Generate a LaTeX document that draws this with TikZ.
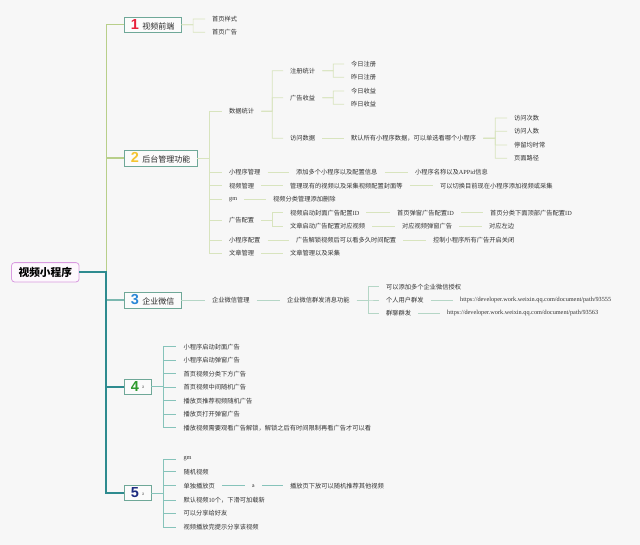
\documentclass[tikz,border=0pt]{standalone}
\usepackage{fontspec}
\setmainfont{Noto Sans CJK SC}
\newfontfamily\numfont{Liberation Sans}
\newfontfamily\latfont{Liberation Serif}
\usetikzlibrary{calc}

\definecolor{bgcol}{HTML}{F7F7F7}
\definecolor{leaftext}{HTML}{333333}
\definecolor{topictext}{HTML}{2A2A2A}
\definecolor{boxline}{HTML}{6FA898}
\definecolor{boxfill}{HTML}{FBFBFB}
\definecolor{rootline}{HTML}{D99BE0}
\definecolor{rootfill}{HTML}{FDF8FD}
\definecolor{upgreen}{HTML}{B8CF8A}
\definecolor{upsubcol}{HTML}{D8E4BE}
\definecolor{trunkteal}{HTML}{2E8B8F}
\definecolor{wxcol}{HTML}{7CB8B0}
\definecolor{wxsubcol}{HTML}{B5D6C6}
\definecolor{lowsubcol}{HTML}{86C3BA}
\definecolor{subgray}{HTML}{777777}
\definecolor{numred}{HTML}{E8203A}
\definecolor{numyellow}{HTML}{F4C430}
\definecolor{numblue}{HTML}{2A86D6}
\definecolor{numgreen}{HTML}{2E9A2E}
\definecolor{numnavy}{HTML}{1B2A80}

\newcommand{\lat}[1]{{\latfont #1}}
\newcommand{\tnum}[2]{{\numfont\bfseries\fontsize{14.5}{14.5}\selectfont\color{#1}#2}}
\newcommand{\tmark}{\raisebox{2.5pt}{\fontsize{4.5}{5}\selectfont\color{subgray}a}}

\begin{document}
\begin{tikzpicture}[x=1pt, y=-1pt,
  leaf/.style={anchor=west, inner xsep=7pt, inner ysep=1pt, xshift=-7pt,
    text=leaftext, font=\fontsize{6.25}{7}\selectfont},
  topic/.style={anchor=west, draw=boxline, fill=boxfill, line width=0.7pt,
    inner xsep=6.5pt, inner ysep=2.5pt, text=topictext,
    font=\fontsize{8}{9}\selectfont},
  rootbox/.style={draw=rootline, fill=rootfill, rounded corners=3pt,
    line width=0.8pt, inner xsep=7pt, inner ysep=4.5pt,
    font=\bfseries\fontsize{10.7}{12}\selectfont},
  elbow/.style={to path={-- ($(\tikztostart)!0.5!(\tikztostart -| \tikztotarget)$) |- (\tikztotarget)}},
  upline/.style={draw=upgreen, line width=1.3pt},
  upsub/.style={draw=upsubcol, line width=0.7pt},
  wxline/.style={draw=wxcol, line width=1.2pt},
  wxsub/.style={draw=wxsubcol, line width=0.7pt},
  lowline/.style={draw=trunkteal, line width=2pt},
  lowsub/.style={draw=lowsubcol, line width=0.7pt}
]
\fill[bgcol] (0,0) rectangle (640,545);
\useasboundingbox (0,0) rectangle (640,545);

% root and main topics
\node[rootbox] (root) at (45.3,272.3) {视频小程序};
\node[topic] (fe) at (124,24.7) {\tnum{numred}{1}\hspace{3.5pt}视频前端};
\node[topic] (be) at (124,158) {\tnum{numyellow}{2}\hspace{3.5pt}后台管理功能};
\node[topic] (wx) at (124,300) {\tnum{numblue}{3}\hspace{3.5pt}企业微信};
\node[topic] (ad) at (124,386.5) {\tnum{numgreen}{4}\hspace{3pt}\tmark\hspace{2.5pt}};
\node[topic] (pl) at (124,493) {\tnum{numnavy}{5}\hspace{3pt}\tmark\hspace{2.5pt}};

\draw[upline] (root.east) -- ++(27,0) |- (fe.west);
\draw[upline] (root.east) -- ++(27,0) |- (be.west);
\draw[wxline] (root.east) -- ++(27,0) |- (wx.west);
\draw[lowline] (root.east) -- ++(27,0) |- (ad.west);
\draw[lowline] (root.east) -- ++(27,0) |- (pl.west);

% 1
\node[leaf] (fe1) at (212,19) {首页样式};
\node[leaf] (fe2) at (212,32.3) {首页广告};
\foreach \c in {fe1,fe2} \draw[upsub] (fe.east) to[elbow] (\c.west);

% 2
\node[leaf] (be1) at (229,111.3) {数据统计};
\node[leaf] (be2) at (229,172.3) {小程序管理};
\node[leaf] (be3) at (229,185.7) {视频管理};
\node[leaf] (be4) at (229,199.3) {\lat{gm}};
\node[leaf] (be5) at (229,220) {广告配置};
\node[leaf] (be6) at (229,240) {小程序配置};
\node[leaf] (be7) at (229,253.3) {文章管理};
\foreach \c in {be1,be2,be3,be4,be5,be6,be7} \draw[upsub] (be.east) to[elbow] (\c.west);

\node[leaf] (be11) at (290,70.7) {注册统计};
\node[leaf] (be12) at (290,97.7) {广告收益};
\node[leaf] (be13) at (290,138.3) {访问数据};
\foreach \c in {be11,be12,be13} \draw[upsub] (be1.east) to[elbow] (\c.west);

\node[leaf] (be111) at (351,64) {今日注册};
\node[leaf] (be112) at (351,77.3) {昨日注册};
\foreach \c in {be111,be112} \draw[upsub] (be11.east) to[elbow] (\c.west);
\node[leaf] (be121) at (351,91) {今日收益};
\node[leaf] (be122) at (351,104.3) {昨日收益};
\foreach \c in {be121,be122} \draw[upsub] (be12.east) to[elbow] (\c.west);

\node[leaf] (be131) at (351,138.3) {默认所有小程序数据，可以单选看哪个小程序};
\draw[upsub] (be13.east) -- (be131.west);
\node[leaf] (be1311) at (514,118) {访问次数};
\node[leaf] (be1312) at (514,131.3) {访问人数};
\node[leaf] (be1313) at (514,145) {停留均时常};
\node[leaf] (be1314) at (514,158.3) {页面路径};
\foreach \c in {be1311,be1312,be1313,be1314} \draw[upsub] (be131.east) to[elbow] (\c.west);

\node[leaf] (be21) at (296,172.3) {添加多个小程序以及配置信息};
\node[leaf] (be211) at (415,172.3) {小程序名称以及\lat{APPid}信息};
\draw[upsub] (be2.east) -- (be21.west);
\draw[upsub] (be21.east) -- (be211.west);

\node[leaf] (be31) at (290,185.7) {管理现有的视频以及采集视频配置封面等};
\node[leaf] (be311) at (440,185.7) {可以切换目前现在小程序添加视频或采集};
\draw[upsub] (be3.east) -- (be31.west);
\draw[upsub] (be31.east) -- (be311.west);

\node[leaf] (be41) at (273,199.3) {视频分类管理添加删除};
\draw[upsub] (be4.east) -- (be41.west);

\node[leaf] (be51) at (290,212.7) {视频启动封面广告配置\lat{ID}};
\node[leaf] (be511) at (397,212.7) {首页弹窗广告配置\lat{ID}};
\node[leaf] (be5111) at (490,212.7) {首页分类下面顶部广告配置\lat{ID}};
\node[leaf] (be52) at (290,226.3) {文章启动广告配置对应视频};
\node[leaf] (be521) at (402,226.3) {对应视频弹窗广告};
\node[leaf] (be5211) at (489,226.3) {对应左边};
\foreach \c in {be51,be52} \draw[upsub] (be5.east) to[elbow] (\c.west);
\draw[upsub] (be51.east) -- (be511.west);
\draw[upsub] (be511.east) -- (be5111.west);
\draw[upsub] (be52.east) -- (be521.west);
\draw[upsub] (be521.east) -- (be5211.west);

\node[leaf] (be61) at (296,240) {广告解锁视频后可以看多久时间配置};
\node[leaf] (be611) at (433,240) {控制小程序所有广告开启关闭};
\draw[upsub] (be6.east) -- (be61.west);
\draw[upsub] (be61.east) -- (be611.west);

\node[leaf] (be71) at (290,253.3) {文章管理以及采集};
\draw[upsub] (be7.east) -- (be71.west);

% 3
\node[leaf] (wx1) at (212,300) {企业微信管理};
\node[leaf] (wx11) at (287,300) {企业微信群发消息功能};
\draw[wxsub] (wx.east) -- (wx1.west);
\draw[wxsub] (wx1.east) -- (wx11.west);
\node[leaf] (wx111) at (386,286.7) {可以添加多个企业微信授权};
\node[leaf] (wx112) at (386,300) {个人用户群发};
\node[leaf] (wx113) at (386,313.3) {群聊群发};
\foreach \c in {wx111,wx112,wx113} \draw[wxsub] (wx11.east) to[elbow] (\c.west);
\node[leaf] (wx1121) at (460,300) {\lat{https://developer.work.weixin.qq.com/document/path/93555}};
\node[leaf] (wx1131) at (447,313.3) {\lat{https://developer.work.weixin.qq.com/document/path/93563}};
\draw[wxsub] (wx112.east) -- (wx1121.west);
\draw[wxsub] (wx113.east) -- (wx1131.west);

% 4
\node[leaf] (ad1) at (183.3,346.7) {小程序启动封面广告};
\node[leaf] (ad2) at (183.3,360) {小程序启动弹窗广告};
\node[leaf] (ad3) at (183.3,373.7) {首页视频分类下方广告};
\node[leaf] (ad4) at (183.3,387) {首页视频中间随机广告};
\node[leaf] (ad5) at (183.3,400.7) {播放页推荐视频随机广告};
\node[leaf] (ad6) at (183.3,414.3) {播放页打开弹窗广告};
\node[leaf] (ad7) at (183.3,427.7) {播放视频需要观看广告解锁，解锁之后有时间限制再看广告才可以看};
\foreach \c in {ad1,ad2,ad3,ad4,ad5,ad6,ad7} \draw[lowsub] (ad.east) to[elbow] (\c.west);

% 5
\node[leaf] (pl1) at (183.3,459) {\lat{gm}};
\node[leaf] (pl2) at (183.3,471.7) {随机视频};
\node[leaf] (pl3) at (183.3,485.7) {单独播放页};
\node[leaf] (pl4) at (183.3,500) {默认视频\lat{10}个，下滑可加载新};
\node[leaf] (pl5) at (183.3,513.3) {可以分享给好友};
\node[leaf] (pl6) at (183.3,527.3) {视频播放完提示分享该视频};
\foreach \c in {pl1,pl2,pl3,pl4,pl5,pl6} \draw[lowsub] (pl.east) to[elbow] (\c.west);
\node[leaf, font=\fontsize{5}{5}\selectfont] (pl31) at (251.7,485.7) {a};
\node[leaf] (pl311) at (290,485.7) {播放页下放可以随机推荐其他视频};
\draw[lowsub] (pl3.east) -- (pl31.west);
\draw[lowsub] (pl31.east) -- (pl311.west);

\end{tikzpicture}
\end{document}
